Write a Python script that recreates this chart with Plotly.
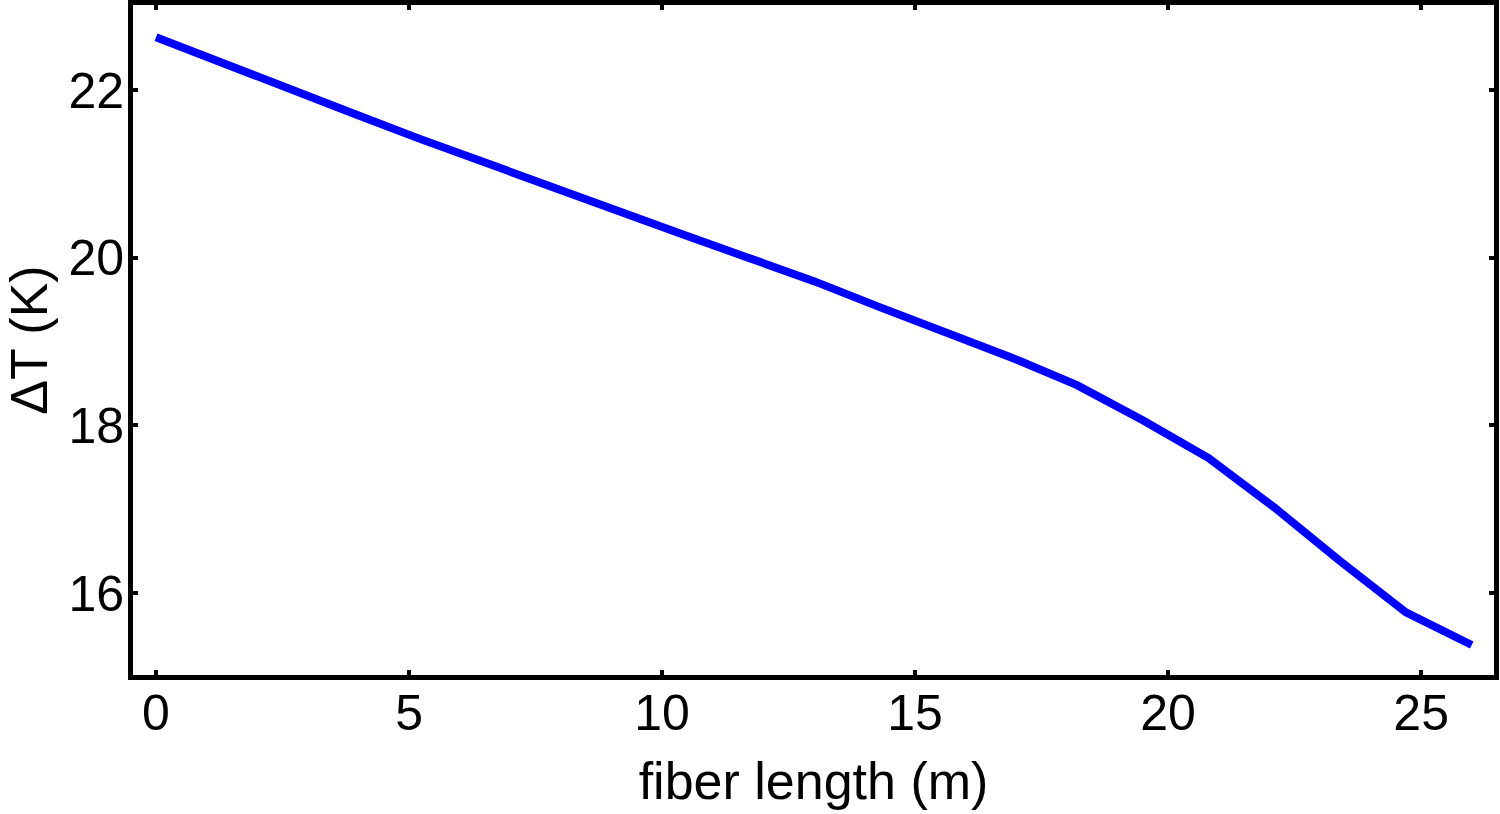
import plotly.graph_objects as go

fiber_length = [0.0, 1.3, 2.6, 3.9, 5.2, 6.5, 7.8, 9.1, 10.4, 11.7, 13.0,
                14.3, 15.6, 16.9, 18.2, 19.5, 20.8, 22.1, 23.4, 24.7, 26.0]
delta_T = [22.63, 22.32, 22.01, 21.72, 21.42, 21.13, 20.84, 20.56, 20.28, 20.00, 19.72,
           19.41, 19.12, 18.81, 18.48, 18.06, 17.61, 17.02, 16.38, 15.77, 15.38]

x_ticks = [0, 5, 10, 15, 20, 25]
y_ticks = [16, 18, 20, 22]

fig = go.Figure()
fig.add_trace(go.Scatter(x=fiber_length, y=delta_T, mode="lines",
                         line=dict(color="#0000FF", width=8), showlegend=False))

font = dict(family="Liberation Sans, Arial, sans-serif", size=50, color="black")
title_font = dict(family="Liberation Sans, Arial, sans-serif", size=52, color="black")

fig.update_layout(
    width=1500, height=814,
    margin=dict(l=133, r=6, t=5, b=139),
    paper_bgcolor="white", plot_bgcolor="white",
    font=font,
)
fig.update_xaxes(
    range=[-0.455, 26.44], tickvals=x_ticks, ticktext=[str(v) for v in x_ticks],
    showline=True, linewidth=5, linecolor="black", mirror="ticks",
    ticks="inside", ticklen=5, tickwidth=4, tickcolor="black",
    showgrid=False, zeroline=False, tickfont=font, automargin=False,
    ticklabelstandoff=-10,
    title=dict(text="fiber length (m)", font=title_font, standoff=24),
)
fig.update_yaxes(
    range=[15.022, 23.014], tickvals=y_ticks, ticktext=[str(v) for v in y_ticks],
    showline=True, linewidth=5, linecolor="black", mirror="ticks",
    ticks="inside", ticklen=5, tickwidth=4, tickcolor="black",
    showgrid=False, zeroline=False, tickfont=font, automargin=False,
    ticklabelstandoff=-6,
    title=dict(text="ΔT (K)", font=title_font, standoff=6),
)

fig.write_html("out.html")
